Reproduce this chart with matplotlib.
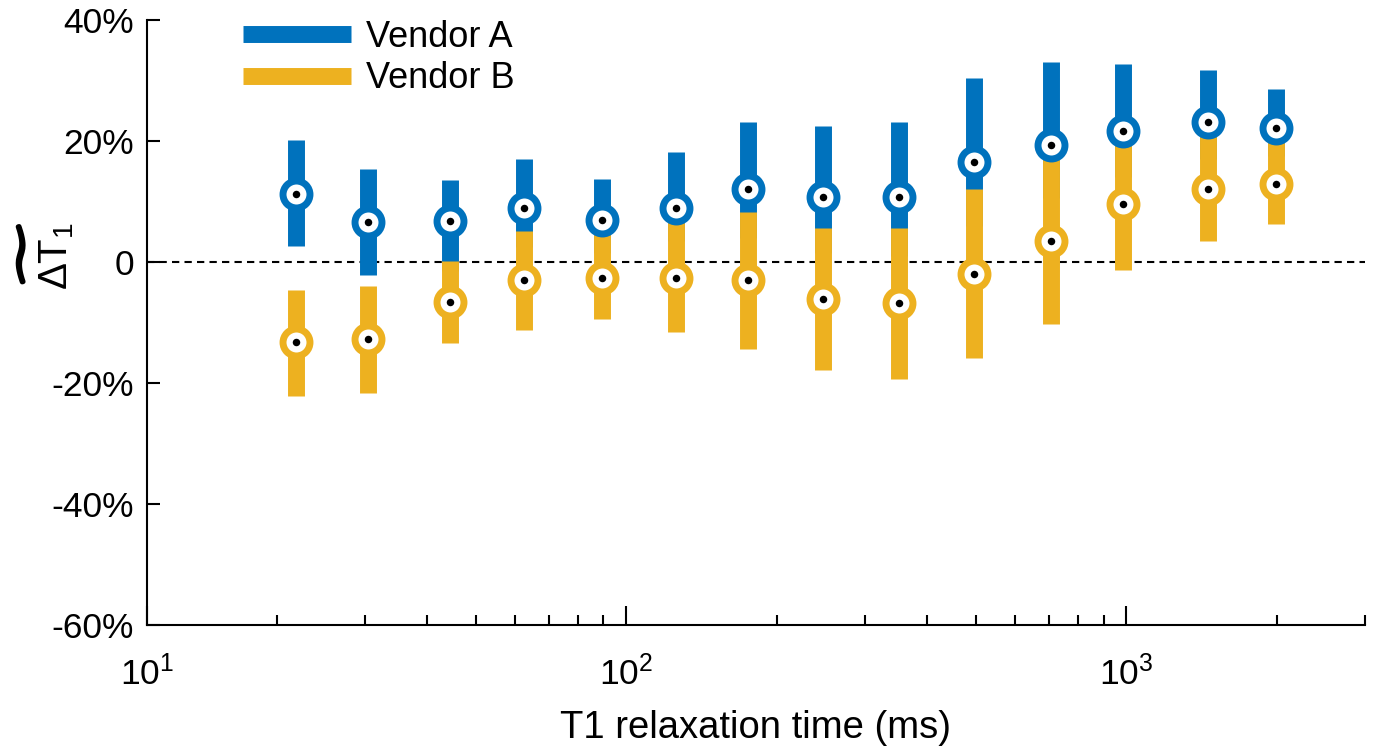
# -*- coding: utf-8 -*-
"""
Relative T1 error per phantom sphere for two vendors: median with
inter-quartile bar, on a log T1 axis.
"""

import matplotlib
matplotlib.use('Agg')
import matplotlib.pyplot as plt
import matplotlib.patheffects as pe
from matplotlib.lines import Line2D
from matplotlib.ticker import LogLocator, NullFormatter, FuncFormatter

# DATA
# ----
t1_ms = [21.9, 30.5, 44.5, 62.4, 89.5, 125.9, 175.1, 247.1, 351.5, 496.7,
         706.0, 984.1, 1454.0, 1989.0]

vendor_a_med = [11.3, 6.6, 6.8, 8.9, 6.9, 9.0, 12.0, 10.7, 10.7, 16.5,
                19.4, 21.7, 23.1, 22.1]
vendor_a_hi = [20.2, 15.3, 13.6, 17.0, 13.8, 18.2, 23.2, 22.5, 23.2, 30.4,
               33.1, 32.8, 31.7, 28.6]
vendor_a_lo = [2.6, -2.1, -1.5, 2.5, 1.5, 3.5, 4.0, 1.5, 1.0, 6.0,
               10.5, 14.0, 17.0, 17.5]

vendor_b_med = [-13.3, -12.7, -6.6, -3.0, -2.6, -2.6, -3.0, -6.1, -6.8, -2.0,
                3.4, 9.6, 12.0, 12.9]
vendor_b_hi = [-4.6, -4.0, 0.1, 5.1, 5.0, 6.8, 8.3, 5.7, 5.7, 12.0,
               17.5, 19.5, 21.0, 20.0]
vendor_b_lo = [-22.1, -21.6, -13.4, -11.2, -9.4, -11.6, -14.3, -17.8, -19.3, -15.9,
               -10.3, -1.4, 3.4, 6.3]

series_names = ['Vendor A', 'Vendor B']
y_ticks = [-60, -40, -20, 0, 20, 40]
x_lim = (11.0, 3000.0)
# ----

col_a = '#0072BD'
col_b = '#EDB120'

plt.rcParams['font.family'] = ['Liberation Sans', 'DejaVu Sans']
plt.rcParams['mathtext.fontset'] = 'custom'
plt.rcParams['mathtext.rm'] = 'Liberation Sans'
plt.rcParams['mathtext.it'] = 'Liberation Sans:italic'
plt.rcParams['mathtext.bf'] = 'Liberation Sans:bold'
plt.rcParams['mathtext.sf'] = 'Liberation Sans'

fig = plt.figure(figsize=(13.74, 7.46), dpi=100)
ax = fig.add_axes([0.1068, 0.1622, 0.8867, 0.811])

bar_w = 12.2      # pt
ring_ms = 19.4    # pt
ring_mew = 5.0    # pt
dot_ms = 5.4      # pt

# bars: vendor A underneath, vendor B on top
ax.vlines(t1_ms, vendor_a_lo, vendor_a_hi, colors=col_a, linewidth=bar_w,
          capstyle='butt', zorder=2)
ax.vlines(t1_ms, vendor_b_lo, vendor_b_hi, colors=col_b, linewidth=bar_w,
          capstyle='butt', zorder=3)

# median markers: coloured ring, white face, black centre dot
for med, col in ((vendor_a_med, col_a), (vendor_b_med, col_b)):
    ax.plot(t1_ms, med, linestyle='none', marker='o', markersize=ring_ms,
            markerfacecolor='white', markeredgecolor=col,
            markeredgewidth=ring_mew, zorder=4)
    ax.plot(t1_ms, med, linestyle='none', marker='o', markersize=dot_ms,
            markerfacecolor='black', markeredgecolor='black',
            markeredgewidth=0, zorder=5)

ax.axhline(0, color='black', linewidth=1.5, dashes=(3.5, 2.5), zorder=1)

# AXES
# ----
ax.set_xscale('log')
ax.set_xlim(*x_lim)
ax.set_ylim(y_ticks[0], y_ticks[-1])

ax.set_xticks([x_lim[0], 100, 1000])
ax.set_xticklabels([r'$10^1$', r'$10^2$', r'$10^3$'])
ax.xaxis.set_minor_locator(LogLocator(base=10, subs=range(2, 10)))
ax.xaxis.set_minor_formatter(NullFormatter())

ax.set_yticks(y_ticks)
ax.yaxis.set_major_formatter(FuncFormatter(
    lambda v, p: '0' if v == 0 else '%d%%' % v))

for side in ('top', 'right'):
    ax.spines[side].set_visible(False)
for side in ('left', 'bottom'):
    ax.spines[side].set_linewidth(1.5)

ax.tick_params(axis='x', which='major', direction='in', length=14, width=1.5,
               labelsize=25.5, pad=22)
ax.tick_params(axis='x', which='minor', direction='in', length=7, width=1.5)
ax.tick_params(axis='y', which='major', direction='in', length=9.5, width=1.5,
               labelsize=25.5, pad=9)

ax.set_xlabel('T1 relaxation time (ms)', fontsize=27.5, labelpad=13)

# y label: delta T1 with a heavy wide tilde drawn above it
ax.set_ylabel(r'$\Delta \mathrm{T}_1$', fontsize=29)
ax.yaxis.set_label_coords(-0.058, 0.61)
fig.text(0.0138, 0.656, r'$\widetilde{\qquad}$', rotation=90,
         ha='center', va='center', fontsize=24,
         path_effects=[pe.withStroke(linewidth=3.5, foreground='black')])

handles = [Line2D([], [], color=col_a, linewidth=bar_w, solid_capstyle='butt'),
           Line2D([], [], color=col_b, linewidth=bar_w, solid_capstyle='butt')]
ax.legend(handles, series_names, loc='upper left',
          bbox_to_anchor=(0.079, 1.0), frameon=False, fontsize=26,
          handlelength=3.0, handletextpad=0.42, labelspacing=0.18,
          borderpad=0, borderaxespad=0)

fig.savefig('out.png', dpi=100)
